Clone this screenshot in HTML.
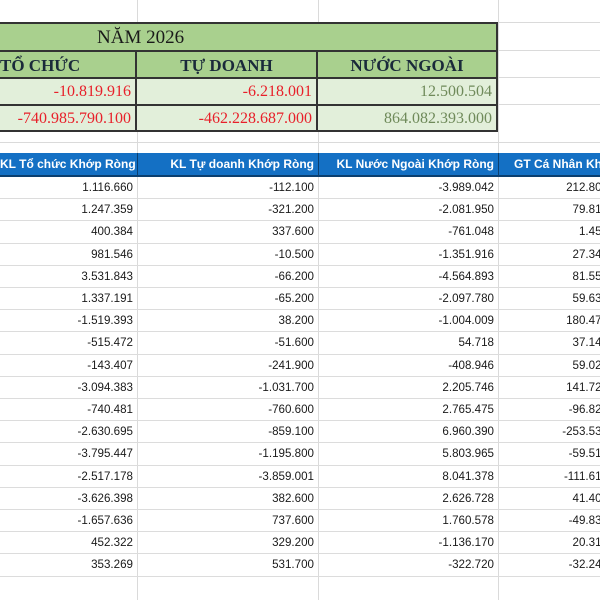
<!DOCTYPE html>
<html><head><meta charset="utf-8"><style>
body{margin:0;width:600px;height:600px;overflow:hidden;background:#fff;position:relative;font-family:"Liberation Sans",sans-serif}
#wrap{position:absolute;left:0;top:0;width:600px;height:600px;overflow:hidden}
.a{position:absolute;box-sizing:border-box}
.g{background:#dadada}
.top{font-family:"Liberation Serif",serif;color:#1a1a1a}
.num{text-align:right;padding-right:4px;font-size:16px;line-height:25px}
.hd{font-weight:bold;text-align:center;font-size:17px;line-height:27px;color:#1a2a3a}
.bh{background:#1470c4;color:#fff;font-weight:bold;font-size:12px;line-height:22px;text-align:center;border-right:1px solid #0b3f70;border-bottom:2px solid #0b3f70;overflow:hidden;white-space:nowrap}
.c{font-size:11.6px;color:#1a1a1a;text-align:right;padding-right:5px;white-space:nowrap;border-bottom:1px solid #dcdcdc;overflow:hidden}
.c span{position:absolute;right:-8px;top:0}
</style></head><body>
<div id="wrap">
<div class="a g" style="left:137px;top:0;width:1px;height:600px"></div>
<div class="a g" style="left:318px;top:0;width:1px;height:600px"></div>
<div class="a g" style="left:498px;top:0;width:1px;height:600px"></div>
<div class="a g" style="left:0;top:22px;width:600px;height:1px"></div>
<div class="a g" style="left:0;top:142px;width:600px;height:1px"></div>
<div class="a g" style="left:498px;top:50px;width:102px;height:1px"></div>
<div class="a g" style="left:498px;top:77px;width:102px;height:1px"></div>
<div class="a g" style="left:498px;top:104px;width:102px;height:1px"></div>

<div class="a top" style="left:0;top:22px;width:498px;height:110px;border:2px solid #333;border-left:none;background:#e2efda">
  <div class="a" style="left:0;top:0;width:496px;height:28px;background:#a9d08e;border-bottom:2px solid #333;font-size:19px;line-height:28px;padding-left:97px">NĂM 2026</div>
  <div class="a hd" style="left:0;top:28px;width:137px;height:27px;background:#a9d08e;border-bottom:2px solid #333;border-right:2px solid #333;text-align:left;padding-left:0">TỔ CHỨC</div>
  <div class="a hd" style="left:137px;top:28px;width:181px;height:27px;background:#a9d08e;border-bottom:2px solid #333;border-right:2px solid #333">TỰ DOANH</div>
  <div class="a hd" style="left:318px;top:28px;width:178px;height:27px;background:#a9d08e;border-bottom:2px solid #333">NƯỚC NGOÀI</div>
  <div class="a num" style="left:0;top:55px;width:137px;height:27px;border-right:2px solid #333;border-bottom:2px solid #333;color:#e8202a">-10.819.916</div>
  <div class="a num" style="left:137px;top:55px;width:181px;height:27px;border-right:2px solid #333;border-bottom:2px solid #333;color:#e8202a">-6.218.001</div>
  <div class="a num" style="left:318px;top:55px;width:178px;height:27px;border-bottom:2px solid #333;color:#6f8a5a">12.500.504</div>
  <div class="a num" style="left:0;top:82px;width:137px;height:24px;border-right:2px solid #333;color:#e8202a">-740.985.790.100</div>
  <div class="a num" style="left:137px;top:82px;width:181px;height:24px;border-right:2px solid #333;color:#e8202a">-462.228.687.000</div>
  <div class="a num" style="left:318px;top:82px;width:178px;height:24px;color:#6f8a5a">864.082.393.000</div>
</div>

<div class="a bh" style="left:0;top:153px;width:138px;height:24px;text-align:right;padding-right:3px">KL Tổ chức Khớp Ròng</div>
<div class="a bh" style="left:138px;top:153px;width:181px;height:24px;text-align:right;padding-right:4px">KL Tự doanh Khớp Ròng</div>
<div class="a bh" style="left:319px;top:153px;width:180px;height:24px;text-align:right;padding-right:4px">KL Nước Ngoài Khớp Ròng</div>
<div class="a bh" style="left:499px;top:153px;width:101px;height:24px;text-align:left;padding-left:15px;border-right:none">GT Cá Nhân Khớp Ròng</div>

<div id="rows"></div>
</div>
<script>
const colToChuc=["1.116.660","1.247.359","400.384","981.546","3.531.843","1.337.191","-1.519.393","-515.472","-143.407","-3.094.383","-740.481","-2.630.695","-3.795.447","-2.517.178","-3.626.398","-1.657.636","452.322","353.269"];
const colTuDoanh=["-112.100","-321.200","337.600","-10.500","-66.200","-65.200","38.200","-51.600","-241.900","-1.031.700","-760.600","-859.100","-1.195.800","-3.859.001","382.600","737.600","329.200","531.700"];
const colNuocNgoai=["-3.989.042","-2.081.950","-761.048","-1.351.916","-4.564.893","-2.097.780","-1.004.009","54.718","-408.946","2.205.746","2.765.475","6.960.390","5.803.965","8.041.378","2.626.728","1.760.578","-1.136.170","-322.720"];
const colCaNhan=["212.806","79.814","1.454","27.348","81.556","59.635","180.477","37.147","59.026","141.728","-96.827","-253.536","-59.518","-111.618","41.401","-49.839","20.317","-32.243"];
const rowsEl=document.getElementById('rows');
const cols=[[colToChuc,0,138],[colTuDoanh,138,181],[colNuocNgoai,319,180],[colCaNhan,499,101]];
for(let i=0;i<colToChuc.length;i++){
  const top=177+i*22.2;
  cols.forEach((c,j)=>{
    const d=document.createElement('div');
    d.className='a c';
    
    
    d.style.left=c[1]+'px';d.style.top=top+'px';d.style.width=c[2]+'px';d.style.height='22.2px';d.style.lineHeight='21px';
    if(j===3){const s=document.createElement('span');s.textContent=c[0][i];d.appendChild(s);}
    else d.textContent=c[0][i];
    rowsEl.appendChild(d);
  });
}
</script>
</body></html>
